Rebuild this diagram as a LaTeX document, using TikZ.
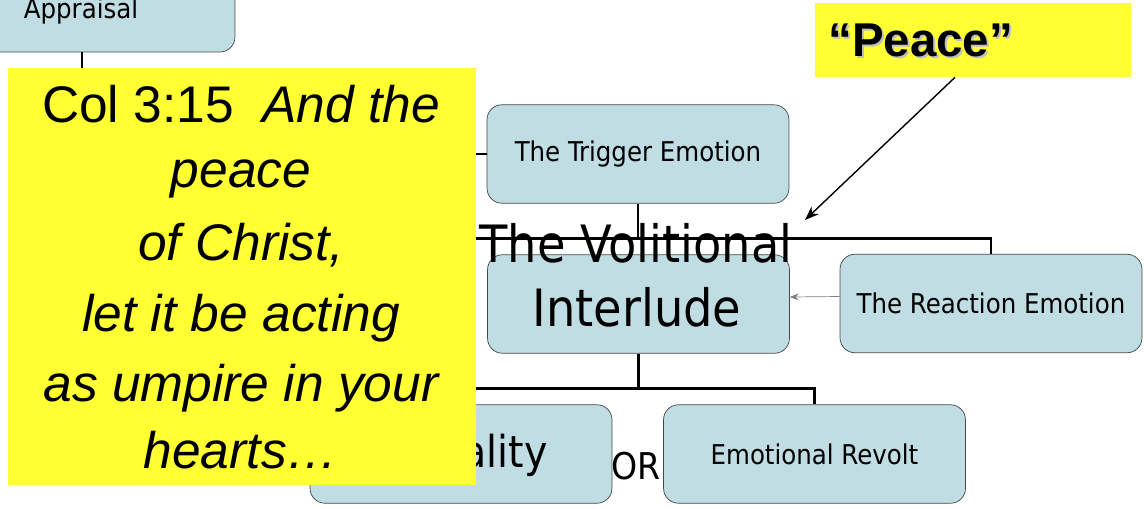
\documentclass[tikz,border=0pt]{standalone}
\usepackage{fontspec}
\setmainfont{Liberation Sans}
\newfontfamily\boxfont{DejaVu Sans Condensed}
\usetikzlibrary{arrows.meta}
\definecolor{boxblue}{RGB}{192,221,227}
\definecolor{boxline}{RGB}{70,70,70}
\definecolor{noteyellow}{RGB}{255,255,51}
\tikzset{
  stagebox/.style={draw=boxline,fill=boxblue,rounded corners=0.3cm,
    minimum width=6.04cm,minimum height=1.97cm,inner sep=0pt,
    font=\boxfont\fontsize{15.5}{18}\selectfont},
  bigtext/.style={font=\boxfont\fontsize{29.3}{34}\selectfont,inner sep=0pt},
  bus/.style={line width=1.7pt},
  versetext/.style={font=\fontsize{29.3}{34}\selectfont\itshape,anchor=base,inner sep=0pt}
}
\begin{document}
\begin{tikzpicture}[x=0.02cm,y=-0.02cm]
    \useasboundingbox (0,0) rectangle (1144,508);
    \clip (0,0) rectangle (1144,508);

    % Define points
    \coordinate (buswest) at (400,238);
    \coordinate (peacetip) at (805,220);

    % Boxes
    \node[stagebox,minimum width=6.12cm,minimum height=2.04cm] (appraisal) at (82,1) {};
    \node[stagebox] (trigger) at (638,154) {The Trigger Emotion};
    \node[stagebox] (interlude) at (638.5,304) {};
    \node[stagebox] (reaction) at (991,303.5) {The Reaction Emotion};
    \node[stagebox] (choice) at (461,454) {};
    \node[stagebox] (revolt) at (814.5,454) {Emotional Revolt};

    % Draw edges
    \draw[bus] (appraisal.south) |- (trigger.west);
    \draw[bus] (trigger.south) -- ++(0,34);
    \draw[bus] (buswest) -| (reaction.north);
    \draw[bus] (interlude.south) -- ++(0,35) -| (choice.north);
    \draw[bus] (interlude.south) -- ++(0,35) -| (revolt.north);
    \draw[gray,-{Stealth[length=5pt,width=4pt]}] ([yshift=0.14cm]reaction.west) -- ([yshift=0.14cm]interlude.east);

    % Box texts
    \node[anchor=base,inner sep=0pt,font=\boxfont\fontsize{15.5}{18}\selectfont] (appraisaltext) at (81,18) {Appraisal};
    \node[bigtext] (volitional) at (636,243) {The Volitional};
    \node[bigtext] (interludetext) at (637,307) {Interlude};
    \node[bigtext,anchor=east,font=\boxfont\fontsize{25}{30}\selectfont] (choicetext) at (548,455) {ality};
    \node[bigtext,font=\boxfont\fontsize{21}{25}\selectfont] (ortext) at (636,466) {OR};

    % Verse note
    \fill[noteyellow] (8,68) rectangle (476,485);
    \node[versetext] (verse1) at (241,122) {\upshape Col 3:15\ \ \itshape And the};
    \node[versetext] (verse2) at (241,187) {peace};
    \node[versetext] (verse3) at (241,260) {of Christ,};
    \node[versetext] (verse4) at (241,331) {let it be acting};
    \node[versetext] (verse5) at (241,401) {as umpire in your};
    \node[versetext] (verse6) at (241,468) {hearts…};

    % Peace note
    \node[fill=noteyellow,minimum width=6.32cm,minimum height=1.48cm,inner sep=0pt] (peace) at (973,40) {};
    \node[anchor=west,font=\fontsize{27}{32}\selectfont\bfseries,text=gray!50,inner sep=0pt] (peaceshadow) at (830,42) {“Peace”};
    \node[anchor=west,font=\fontsize{27}{32}\selectfont\bfseries,inner sep=0pt] (peacetext) at (828,40) {“Peace”};
    \draw[-{Stealth[length=8pt,width=6pt]},thick] ([xshift=-0.36cm]peace.south) -- (peacetip);
\end{tikzpicture}
\end{document}
